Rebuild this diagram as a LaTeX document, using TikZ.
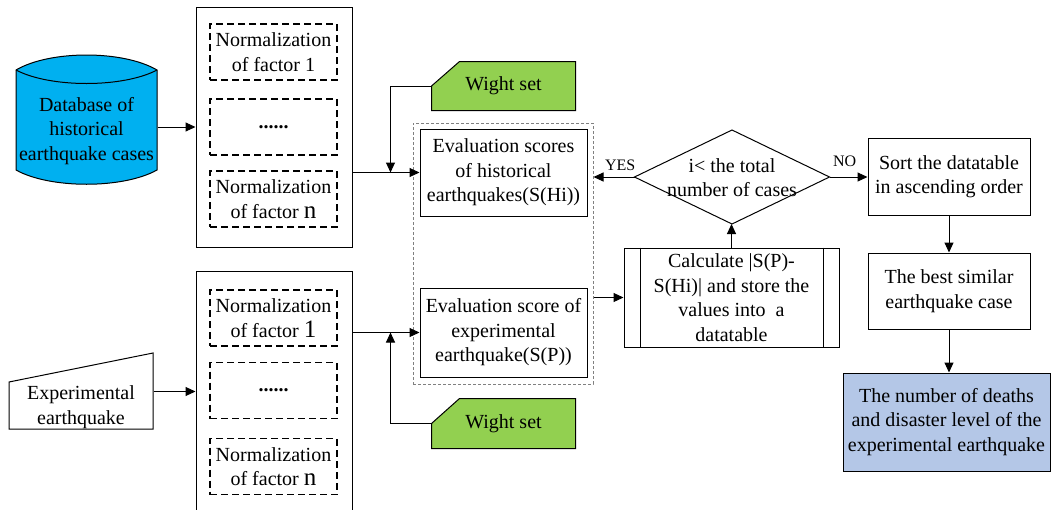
\documentclass[tikz,border=0pt]{standalone}
\usepackage{fontspec}
\setmainfont{Liberation Serif}
\usetikzlibrary{arrows.meta,calc,backgrounds}
\definecolor{dbblue}{HTML}{00B0F0}
\definecolor{wgreen}{HTML}{92D050}
\definecolor{fblue}{HTML}{B4C7E7}
\newcommand\lgch[1]{{\fontsize{25}{24.5}\selectfont #1}}
\tikzset{
 base/.style={font=\fontsize{20}{24.5}\selectfont, align=center, inner sep=0pt, line width=1pt},
 box/.style={base, draw, rectangle},
 inv/.style={base, rectangle},
 dbox/.style={base, draw, dash pattern=on 7pt off 4pt, line width=1.1pt, minimum width=127pt, minimum height=56pt},
 grp/.style={draw, line width=1pt, minimum width=156pt, inner sep=0pt},
 arr/.style={line width=1pt, -{Triangle[length=10pt,width=9pt]}},
 lbl/.style={font=\fontsize{16}{18}\selectfont, inner sep=0pt},
 shapeline/.style={line width=1pt},
}
\begin{document}
\begin{tikzpicture}[x=1pt,y=-1pt]
\useasboundingbox (0,0) rectangle (1051,509);
% database cylinder
\filldraw[fill=dbblue, shapeline] (16,70) .. controls (50,50) and (123,50) .. (157,70) -- (157,170) .. controls (123,189) and (50,189) .. (16,170) -- cycle;
\draw[shapeline] (16,70) .. controls (50,88) and (123,88) .. (157,70);
\node[inv, minimum width=141pt] (db) at (86.5,131) {Database of\\historical\\earthquake cases};
% experimental earthquake (manual input)
\draw[shapeline] (9,382) -- (153,353) -- (153,429) -- (9,429) -- cycle;
\node[inv, minimum width=144pt] (exp) at (81,407) {Experimental\\earthquake};
% upper normalization group
\node[grp, minimum height=240pt] (g1) at (274,127) {};
\node[dbox] (n11) at (273.5,52) {Normalization\\of factor 1};
\node[dbox] (n12) at (273.5,127) {\textbf{......}};
\node[dbox] (n13) at (273.5,199) {Normalization\\of factor \lgch{n}};
% lower normalization group
\node[grp, minimum height=241pt] (g2) at (274,391.5) {};
\node[dbox] (n21) at (273.5,318) {Normalization\\of factor \lgch{1}};
\node[dbox] (n22) at (273.5,390.5) {\textbf{......}};
\node[dbox] (n23) at (273.5,466.5) {Normalization\\of factor \lgch{n}};
% weight sets
\node[inv, minimum width=143pt, minimum height=48pt] (ws1) at (503.5,86) {Wight set};
\node[inv, minimum width=143pt, minimum height=49pt] (ws2) at (503.5,423.5) {Wight set};
\begin{scope}[on background layer]
\filldraw[fill=wgreen, shapeline] (ws1.south west) -- (ws1.west) -- ([xshift=28pt]ws1.north west) -- (ws1.north east) -- (ws1.south east) -- cycle;
\filldraw[fill=wgreen, shapeline] (ws2.south west) -- (ws2.west) -- ([xshift=28pt]ws2.north west) -- (ws2.north east) -- (ws2.south east) -- cycle;
\end{scope}
% evaluation group
\node[inv, draw=gray, dash pattern=on 3pt off 2pt, minimum width=180pt, minimum height=261pt] (ge) at (503,253.5) {};
\node[box, minimum width=167pt, minimum height=87pt] (e1) at (503.5,172.5) {Evaluation scores\\of historical\\earthquakes(S(Hi))};
\node[box, minimum width=167pt, minimum height=89pt] (e2) at (503.5,332.5) {Evaluation score of\\experimental\\earthquake(S(P))};
\coordinate (j1) at ([xshift=-29pt]e1.west);
\coordinate (j2) at ([xshift=-29pt]e2.west);
% decision
\node[inv, minimum width=194pt, minimum height=93pt] (dia) at (732,177) {};
\draw[shapeline] (dia.west) -- (dia.north) -- (dia.east) -- (dia.south) -- cycle;
\node[base] (diat) at (732,177.5) {i< the total\\number of cases};
% calc
\node[box, minimum width=215pt, minimum height=99pt] (calc) at (731.5,297.5) {Calculate |S(P)-\\S(Hi)| and store the\\values into\ \ a\\datatable};
\draw[shapeline] ([xshift=17pt]calc.north west) -- ([xshift=17pt]calc.south west);
\draw[shapeline] ([xshift=-16pt]calc.north east) -- ([xshift=-16pt]calc.south east);
% right column
\node[box, minimum width=162pt, minimum height=77pt] (sort) at (949,176.5) {Sort the datatable\\in ascending order};
\node[box, minimum width=162pt, minimum height=76pt] (best) at (949,291) {The best similar\\earthquake case};
\node[box, fill=fblue, minimum width=207pt, minimum height=98pt] (fin) at (946.5,422) {The number of deaths\\and disaster level of the\\experimental earthquake};
% connectors
\draw[arr] (db.east |- g1.west) -- (g1.west);
\draw[arr] (exp.east |- g2.west) -- (g2.west);
\draw[arr] (g1.east |- e1.west) -- (e1.west);
\draw[arr] (g2.east |- e2.west) -- (e2.west);
\draw[arr] (ws1.west) -| (j1);
\draw[arr] (ws2.west) -| (j2);
\draw[arr] (dia.west) -- (ge.east |- dia.west) node[lbl, pos=0.35, above=6pt] {YES};
\draw[arr] (dia.east) -- (sort.west |- dia.east) node[lbl, pos=0.4, above=10pt] {NO};
\draw[arr] (ge.east |- calc.west) -- (calc.west);
\draw[arr] (calc.north) -- (calc.north |- dia.south);
\draw[arr] (sort.south) -- (best.north);
\draw[arr] (best.south) -- (best.south |- fin.north);
\end{tikzpicture}
\end{document}
